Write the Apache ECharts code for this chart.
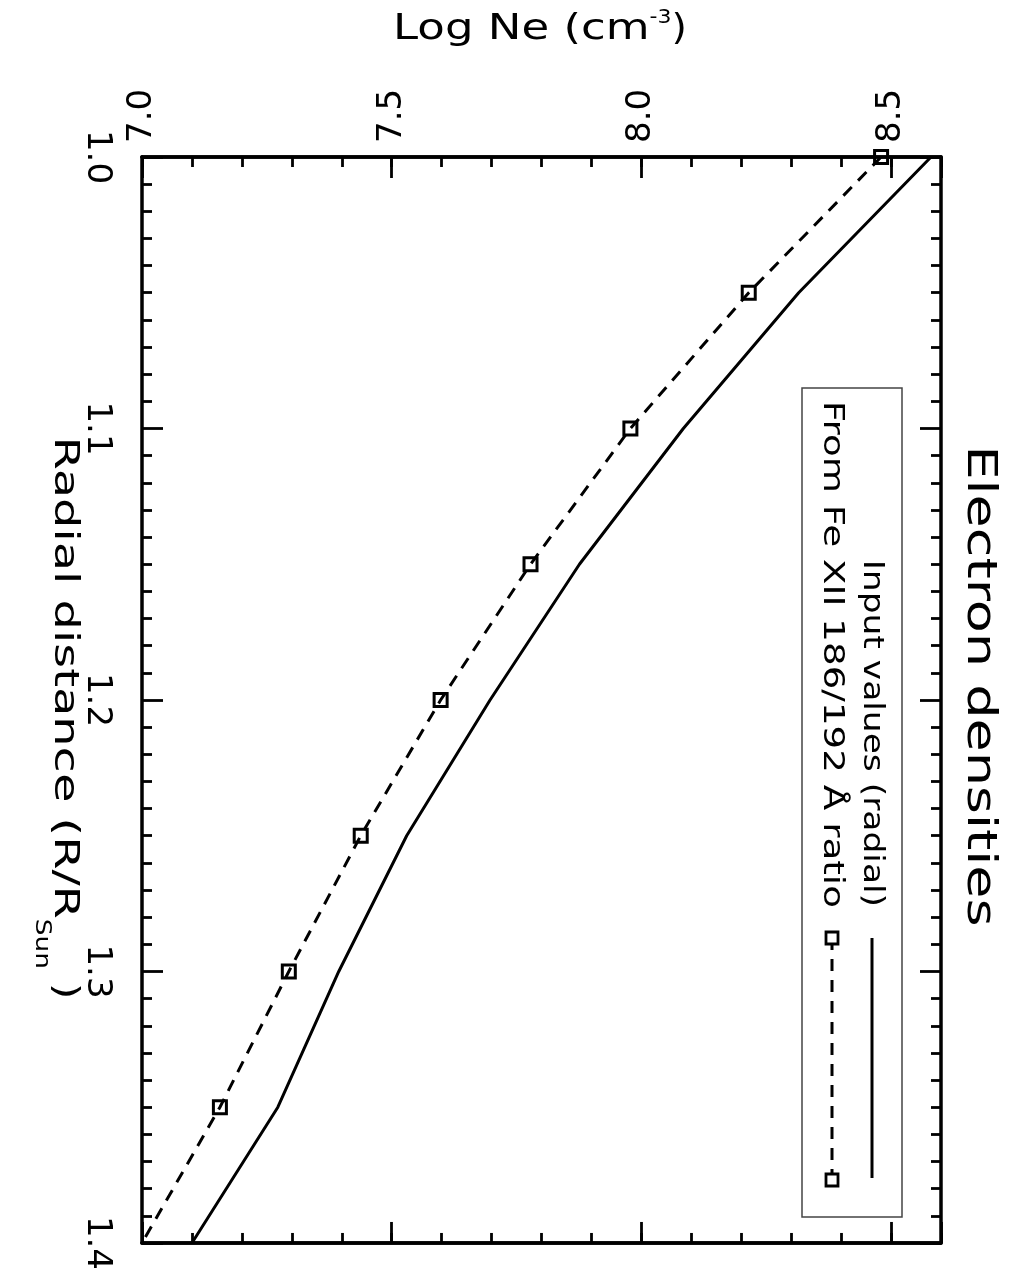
<!DOCTYPE html>
<html>
<head>
<meta charset="utf-8">
<script src="https://cdn.jsdelivr.net/npm/echarts@6/dist/echarts.min.js"></script>
<style>
  html, body { margin: 0; padding: 0; background: #fff; }
  #main { width: 1009px; height: 1273px; }
</style>
</head>
<body>
<div id="main"></div>
<script>
// radial distance (R/Rsun) and log electron densities
const radius = [1.0, 1.05, 1.1, 1.15, 1.2, 1.25, 1.3, 1.35, 1.4];
const inputNe = [8.58, 8.315, 8.084, 7.876, 7.697, 7.53, 7.394, 7.272, 7.10];
const ratioNe = [8.48, 8.215, 7.978, 7.778, 7.598, 7.438, 7.294, 7.156, 7.0];
const seriesNames = ['Input values (radial)', 'From Fe XII 186/192 Å ratio'];

const FONT = '"DejaVu Sans", sans-serif';
let ctx = document.createElement('canvas').getContext('2d');
function textWidth(str, size) {
    ctx.font = size + 'px ' + FONT;
    return ctx.measureText(str).width;
}

let chart = echarts.init(document.getElementById('main'));

function xAxisDef(pos, interval, len, labels) {
    return {
        type: 'value', position: pos, min: 7.0, max: 8.6, interval: interval,
        axisLine: {show: true, onZero: false, lineStyle: {color: '#000', width: 3.5}},
        axisTick: {show: true, inside: true, length: len, lineStyle: {color: '#000', width: 2.8}},
        axisLabel: {
            show: labels, rotate: -90, margin: 14, color: '#000',
            fontFamily: FONT, fontSize: 34,
            formatter: function (v) {
                return Math.abs(v * 2 - Math.round(v * 2)) < 1e-6 ? v.toFixed(1) : '';
            }
        },
        splitLine: {show: false}
    };
}

function yAxisDef(pos, labels) {
    return {
        type: 'value', position: pos, min: 1.0, max: 1.4, interval: 0.1, inverse: true,
        axisLine: {show: true, onZero: false, lineStyle: {color: '#000', width: 3.5}},
        axisTick: {show: true, inside: true, length: 21, lineStyle: {color: '#000', width: 2.8}},
        minorTick: {show: true, splitNumber: 10, length: 10, lineStyle: {color: '#000', width: 2.8}},
        axisLabel: {
            show: labels, rotate: -90, margin: 28, color: '#000',
            fontFamily: FONT, fontSize: 34,
            formatter: function (v) { return v.toFixed(1); }
        },
        splitLine: {show: false}
    };
}

// rotated text helper (clockwise, reading downward), with optional sub/sup part
function rotText(cx, cy, parts, rot) {
    let total = 0;
    let children = [];
    for (let p of parts) {
        let w = textWidth(p.t, p.s) * (p.sx || 1);
        children.push({
            type: 'text', x: total, y: p.dy || 0, scaleX: p.sx || 1,
            style: {text: p.t, fontSize: p.s, fontFamily: FONT, fill: '#000', verticalAlign: 'middle'}
        });
        total += w;
    }
    for (let c of children) c.x -= total / 2;
    return {type: 'group', x: cx, y: cy, rotation: rot, children: children};
}

let legendLeft = 802, legendTop = 388, legendW = 100, legendH = 829;
let row1 = 871, row2 = 831;

let option = {
    animation: false,
    backgroundColor: '#fff',
    grid: {left: 142, top: 157, width: 799, height: 1086, containLabel: false},
    xAxis: [
        xAxisDef('top', 0.5, 21, true),
        xAxisDef('top', 0.1, 10, false),
        xAxisDef('bottom', 0.5, 21, false),
        xAxisDef('bottom', 0.1, 10, false)
    ],
    yAxis: [yAxisDef('left', true), yAxisDef('right', false)],
    series: [
        {
            name: seriesNames[0], type: 'line', xAxisIndex: 0, yAxisIndex: 0,
            data: radius.map((r, i) => [inputNe[i], r]),
            symbol: 'none', lineStyle: {color: '#000', width: 3}
        },
        {
            name: seriesNames[1], type: 'line', xAxisIndex: 0, yAxisIndex: 0,
            data: radius.map((r, i) => ({value: [ratioNe[i], r], symbol: i === radius.length - 1 ? 'none' : 'rect'})),
            symbol: 'rect', symbolSize: 13,
            itemStyle: {color: 'rgba(0,0,0,0)', borderColor: '#000', borderWidth: 3},
            lineStyle: {color: '#000', width: 3, type: [12, 9]}
        }
    ],
    graphic: [
        // axis titles and plot title
        rotText(540, 30, [
            {t: 'Log Ne (cm', s: 36, sx: 1.25},
            {t: '-3', s: 20, dy: -12, sx: 1.1},
            {t: ')', s: 36, sx: 1.1}
        ], 0),
        rotText(64, 718, [
            {t: 'Radial distance (R/R', s: 33, sx: 1.45},
            {t: 'Sun', s: 22, dy: 22, sx: 1.2},
            {t: ' )', s: 33, sx: 1.3}
        ], -Math.PI / 2),
        rotText(978, 686, [{t: 'Electron densities', s: 40, sx: 1.35}], -Math.PI / 2),
        // legend box
        {type: 'rect', shape: {x: legendLeft, y: legendTop, width: legendW, height: legendH},
            style: {fill: 'none', stroke: '#444', lineWidth: 1.5}},
        {type: 'text', x: row1, y: 907, rotation: -Math.PI / 2, scaleX: 1.23,
            style: {text: seriesNames[0], fontSize: 28, fontFamily: FONT, fill: '#000', align: 'right', verticalAlign: 'middle'}},
        {type: 'text', x: row2, y: 908, rotation: -Math.PI / 2, scaleX: 1.33,
            style: {text: seriesNames[1], fontSize: 28, fontFamily: FONT, fill: '#000', align: 'right', verticalAlign: 'middle'}},
        {type: 'line', shape: {x1: 872, y1: 938, x2: 872, y2: 1178}, style: {stroke: '#000', lineWidth: 3}},
        {type: 'line', shape: {x1: 832, y1: 938, x2: 832, y2: 1180}, style: {stroke: '#000', lineWidth: 3, lineDash: [12, 9]}},
        {type: 'rect', shape: {x: 826, y: 932, width: 12, height: 12}, style: {fill: '#fff', stroke: '#000', lineWidth: 2.8}},
        {type: 'rect', shape: {x: 826, y: 1174, width: 12, height: 12}, style: {fill: '#fff', stroke: '#000', lineWidth: 2.8}}
    ]
};

chart.setOption(option);
</script>
</body>
</html>
